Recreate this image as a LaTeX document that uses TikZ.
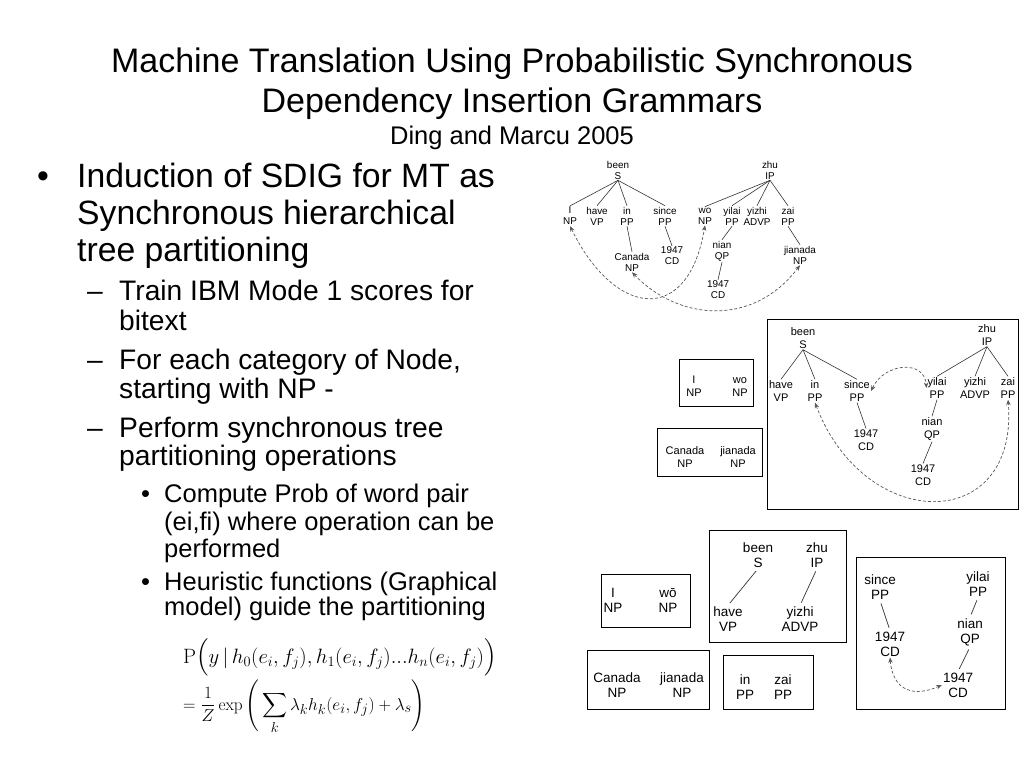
\documentclass[tikz,border=0pt]{standalone}
\usepackage{amsmath}
\usepackage[no-math]{fontspec}
\setmainfont{Liberation Sans}
\usetikzlibrary{arrows.meta}
\begin{document}
\begin{tikzpicture}[x=1pt,y=-1pt,
  ttl/.style={anchor=base, inner sep=0pt, font=\fontsize{34}{40}\selectfont},
  sub/.style={anchor=base, inner sep=0pt, font=\fontsize{25.5}{30}\selectfont},
  lone/.style={anchor=base west, inner sep=0pt, font=\fontsize{33.7}{40}\selectfont},
  ltwo/.style={anchor=base west, inner sep=0pt, font=\fontsize{28.2}{33}\selectfont},
  lthree/.style={anchor=base west, inner sep=0pt, font=\fontsize{25.5}{30}\selectfont},
  eq/.style={inner sep=0pt, font=\fontsize{20}{24}\selectfont},
  eqb/.style={inner sep=0pt, font=\fontsize{19}{23}\selectfont},
  ta/.style={align=center, inner sep=1pt, font=\fontsize{9.9}{11}\selectfont},
  tb/.style={align=center, inner sep=1pt, font=\fontsize{11}{13}\selectfont},
  tc/.style={align=center, inner sep=1pt, font=\fontsize{13.5}{15}\selectfont},
  tree/.style={draw=black!80, line width=0.6pt},
  treec/.style={draw=black!80, line width=0.7pt, shorten >=3pt, shorten <=3pt},
  dar/.style={draw=black!65, line width=0.7pt, dash pattern=on 3pt off 2pt,
     {Stealth[length=5.5pt,width=4.5pt]}-{Stealth[length=5.5pt,width=4.5pt]}},
  frame/.style={draw=black, line width=1pt}]
\useasboundingbox (0,0) rectangle (1024,768);
\fill[white] (0,0) rectangle (1024,768);

% title
\node[ttl] (t1) at (512,72) {Machine Translation Using Probabilistic Synchronous};
\node[ttl] (t2) at (512,112) {Dependency Insertion Grammars};
\node[sub] (t3) at (512,144) {Ding and Marcu 2005};

% bullets
\node[lone] (b0) at (37,187) {•};
\node[lone] (b1) at (77,187) {Induction of SDIG for MT as};
\node[lone] (b2) at (77,224) {Synchronous hierarchical};
\node[lone] (b3) at (77,261) {tree partitioning};
\node[ltwo] (d1) at (87,300) {–};
\node[ltwo] (c1) at (119,300) {Train IBM Mode 1 scores for};
\node[ltwo] (c2) at (119,330) {bitext};
\node[ltwo] (d2) at (87,369) {–};
\node[ltwo] (c3) at (119,369) {For each category of Node,};
\node[ltwo] (c4) at (119,398) {starting with NP -};
\node[ltwo] (d3) at (87,437) {–};
\node[ltwo] (c5) at (119,437) {Perform synchronous tree};
\node[ltwo] (c6) at (119,465) {partitioning operations};
\node[lthree] (e0) at (141,502) {•};
\node[lthree] (e1) at (164,502) {Compute Prob of word pair};
\node[lthree] (e2) at (164,530) {(ei,fi) where operation can be};
\node[lthree] (e3) at (164,557) {performed};
\node[lthree] (f0) at (141,590) {•};
\node[lthree] (f1) at (164,590) {Heuristic functions (Graphical};
\node[lthree] (f2) at (164,615) {model) guide the partitioning};

% equation
\node[eq, anchor=base west] (eq1) at (183,663) {$\mathrm{P}\Big(y \,|\, h_0(e_i,f_j), h_1(e_i,f_j)...h_n(e_i,f_j)\Big)$};
\node[eqb, anchor=west] (eq2) at (183,707) {$\displaystyle =\frac{1}{Z}\exp\Bigg(\sum_k \lambda_k h_k(e_i,f_j)+\lambda_s\Bigg)$};

% ---------- diagram 1 ----------
\node[ta] (been1) at (618,170) {been\\S};
\node[ta] (zhu1) at (770,170) {zhu\\IP};
\node[ta] (I1) at (570,216) {I\\NP};
\node[ta] (have1) at (597,216) {have\\VP};
\node[ta] (in1) at (627,216) {in\\PP};
\node[ta] (since1) at (665,216) {since\\PP};
\node[ta] (wo1) at (705,216) {wo\\NP};
\node[ta] (yilai1) at (732,216) {yilai\\PP};
\node[ta] (yizhi1) at (757,216) {yizhi\\ADVP};
\node[ta] (zai1) at (788,216) {zai\\PP};
\node[ta] (canada1) at (632,262) {Canada\\NP};
\node[ta] (cda1) at (672,256) {1947\\CD};
\node[ta] (nian1) at (722,251) {nian\\QP};
\node[ta] (jianada1) at (800,255) {jianada\\NP};
\node[ta] (cdb1) at (718,290) {1947\\CD};
\foreach \c in {I1,have1,in1,since1} \draw[tree] (been1.south) -- (\c.north);
\foreach \c in {wo1,yilai1,yizhi1,zai1} \draw[tree] (zhu1.south) -- (\c.north);
\draw[tree] (in1.south) -- (canada1.north);
\draw[tree] (since1.south) -- (cda1.north);
\draw[tree] (yilai1.south) -- (nian1.north);
\draw[tree] (nian1.south) -- (cdb1.north);
\draw[tree] (zai1.south) -- (jianada1.north);
\draw[dar] (I1.south) .. controls (615,318) and (688,326) .. (wo1.south);
\draw[dar] (canada1.south) .. controls (680,322) and (754,326) .. (jianada1.south);

% ---------- diagram 2 ----------
\draw[frame] (679,359) rectangle (753,406);
\node[tb] (I2) at (694,386) {I\\NP};
\node[tb] (wo2) at (740,387) {wo\\NP};
\draw[frame] (657,428) rectangle (762,476);
\node[tb] (canada2) at (685,457) {Canada\\NP};
\node[tb] (jianada2) at (738,457) {jianada\\NP};
\draw[frame] (767,319) rectangle (1018,509);
\node[tb] (been2) at (803,338) {been\\S};
\node[tb] (zhu2) at (987,335) {zhu\\IP};
\node[tb] (have2) at (781,391) {have\\VP};
\node[tb] (in2) at (815,391) {in\\PP};
\node[tb] (since2) at (857,391) {since\\PP};
\node[tb] (yilai2) at (937,388) {yilai\\PP};
\node[tb] (yizhi2) at (975,388) {yizhi\\ADVP};
\node[tb] (zai2) at (1008,388) {zai\\PP};
\node[tb] (cda2) at (866,440) {1947\\CD};
\node[tb] (nian2) at (932,429) {nian\\QP};
\node[tb] (cdb2) at (923,475) {1947\\CD};
\foreach \c in {have2,in2,since2} \draw[tree] (been2.south) -- (\c.north);
\foreach \c in {yilai2,yizhi2,zai2} \draw[tree] (zhu2.south) -- (\c.north);
\draw[tree] (since2.south) -- (cda2.north);
\draw[tree] (yilai2.south) -- (nian2.north);
\draw[tree] (nian2.south) -- (cdb2.north);
\draw[dar] (since2.east) .. controls (885,362) and (925,360) .. (yilai2.west);
\draw[dar] (in2.south) .. controls (865,534) and (1019,534) .. (zai2.south);

% ---------- diagram 3 ----------
\draw[frame] (601,574) rectangle (690,627);
\node[tc] (I3) at (613,600) {I\\NP};
\node[tc] (wo3) at (668,600) {wō\\NP};
\draw[frame] (587,650) rectangle (709,709);
\node[tc] (canada3) at (617,685) {Canada\\NP};
\node[tc] (jianada3) at (682,685) {jianada\\NP};
\draw[frame] (709,530) rectangle (846,642);
\node[tc] (been3) at (758,555) {been\\S};
\node[tc] (zhu3) at (817,555) {zhu\\IP};
\node[tc] (have3) at (728,619) {have\\VP};
\node[tc] (yizhi3) at (800,619) {yizhi\\ADVP};
\draw[treec] (been3.south) -- (have3.north);
\draw[treec] (zhu3.south) -- (yizhi3.north);
\draw[frame] (723,655) rectangle (813,709);
\node[tc] (in3) at (745,687) {in\\PP};
\node[tc] (zai3) at (783,687) {zai\\PP};
\draw[frame] (856,557) rectangle (1005,709);
\node[tc] (since3) at (880,587) {since\\PP};
\node[tc] (yilai3) at (978,584) {yilai\\PP};
\node[tc] (cda3) at (890,644) {1947\\CD};
\node[tc] (nian3) at (970,632) {nian\\QP};
\node[tc] (cdb3) at (958,685) {1947\\CD};
\draw[treec] (since3.south) -- (cda3.north);
\draw[treec] (yilai3.south) -- (nian3.north);
\draw[treec] (nian3.south) -- (cdb3.north);
\draw[dar] (cda3.south) .. controls (893,692) and (915,697) .. (cdb3.west);
\end{tikzpicture}
\end{document}
